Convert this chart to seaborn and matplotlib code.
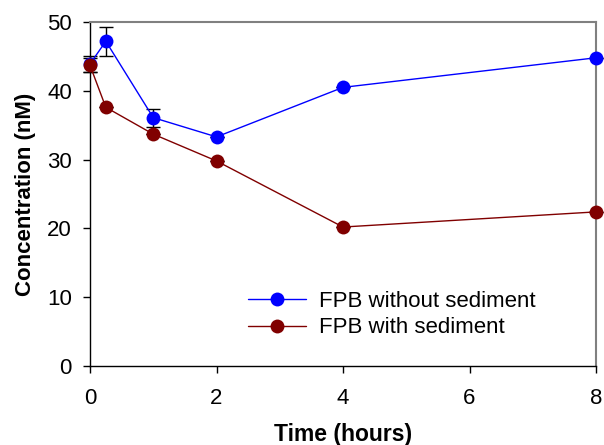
import matplotlib
matplotlib.use("Agg")
import matplotlib.pyplot as plt
import seaborn as sns
import pandas as pd

time_h = [0, 0.25, 1, 2, 4, 8]
without_sed = [43.9, 47.2, 36.1, 33.3, 40.5, 44.8]
without_err = [1.2, 2.1, 1.3, 0.0, 0.0, 0.0]
with_sed = [43.7, 37.6, 33.7, 29.8, 20.2, 22.4]
with_err = [1.0, 0.0, 0.0, 0.0, 0.0, 0.0]
series_names = ["FPB without sediment", "FPB with sediment"]
colors = ["#0000ff", "#800000"]

df = pd.DataFrame({
    "Time": time_h * 2,
    "Conc": without_sed + with_sed,
    "Series": [series_names[0]] * len(time_h) + [series_names[1]] * len(time_h),
})

sns.set_style("ticks")
plt.rcParams["font.family"] = ["Liberation Sans", "DejaVu Sans"]
plt.rcParams["text.color"] = "black"
plt.rcParams["axes.labelcolor"] = "black"

fig = plt.figure(figsize=(6.04, 4.45), dpi=100)
ax = fig.add_axes([90 / 604, 1 - 366 / 445, (596 - 90) / 604, (366 - 22) / 445])

for name, err, col in zip(series_names, [without_err, with_err], colors):
    sub = df[df["Series"] == name]
    ax.errorbar(sub["Time"], sub["Conc"], yerr=err, fmt="none", ecolor="black",
                elinewidth=1.0, capsize=5, capthick=1.0, zorder=2, clip_on=False)

sns.lineplot(data=df, x="Time", y="Conc", hue="Series", palette=colors,
             marker="o", markersize=10, markeredgewidth=0, linewidth=1.0,
             ax=ax, zorder=3, clip_on=False, legend=True)

ax.set_xlim(0, 8)
ax.set_ylim(0, 50)
ax.set_xticks([0, 2, 4, 6, 8])
ax.set_yticks([0, 10, 20, 30, 40, 50])
ax.tick_params(axis="both", labelsize=16, length=5, width=1, direction="out",
               colors="black", labelcolor="black")
ax.tick_params(axis="y", pad=8)
ax.tick_params(axis="x", pad=11)

for s in ["left", "bottom"]:
    ax.spines[s].set_color("black")
    ax.spines[s].set_linewidth(1.0)
for s in ["top", "right"]:
    ax.spines[s].set_visible(True)
    ax.spines[s].set_color("#808080")
    ax.spines[s].set_linewidth(1.5)

ax.set_xlabel("Time (hours)", fontsize=16.5, fontweight="bold", labelpad=10, color="black")
ax.set_ylabel("Concentration (nM)", fontsize=16, fontweight="bold", labelpad=8, color="black")

leg = ax.legend(loc="lower right", bbox_to_anchor=(0.921, 0.022), frameon=False,
                fontsize=16, handlelength=2.6, handletextpad=0.6, labelspacing=0.24)
for t in leg.get_texts():
    t.set_color("black")

fig.savefig("out.png", dpi=100)
